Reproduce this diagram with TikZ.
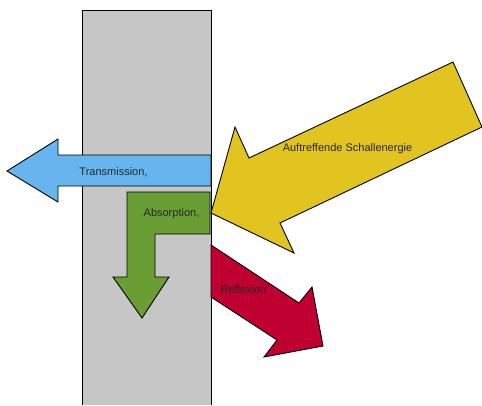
\documentclass[tikz,border=0pt]{standalone}
\usepackage{fontspec}
\setmainfont{Liberation Sans}
\definecolor{wallgray}{HTML}{C6C6C6}
\definecolor{transblue}{HTML}{66B5EE}
\definecolor{absgreen}{HTML}{6A9E35}
\definecolor{incyellow}{HTML}{E2C421}
\definecolor{reflred}{HTML}{BF0030}
\tikzset{
  wall/.style={fill=wallgray, draw=black, line width=1pt},
  flow/.style={draw=black, line width=0.9pt, line join=miter},
  lbl/.style={font=\fontsize{11}{13}\selectfont, text=black!85, inner sep=0pt},
}

\begin{document}
\begin{tikzpicture}[x=1pt, y=-1pt]
    \useasboundingbox (0,0) rectangle (482,405);
    % Wand
    \fill[wallgray] (82,10) rectangle (211,405);
    \draw[wall, fill=none] (82,405) -- (82,10) -- (211,10) -- (211,405);
    % Transmission
    \draw[flow, fill=transblue] (211,155) -- (58,155) -- (58,139) -- (7,171)
        -- (58,202) -- (58,186) -- (211,186) -- cycle;
    % Absorption
    \draw[flow, fill=absgreen] (127,192) -- (210,192) -- (210,234) -- (155,234)
        -- (155,277) -- (169,277) -- (142,318) -- (113,277) -- (127,277) -- cycle;
    % auftreffende Energie
    \draw[flow, fill=incyellow] (211,213) -- (235,127) -- (249,158) -- (453,62)
        -- (482,127) -- (280,223) -- (294,253) -- cycle;
    % Reflexion
    \draw[flow, fill=reflred] (211,245) -- (299,303) -- (312,287) -- (323,346)
        -- (264,357) -- (277,340) -- (211,297) -- cycle;
    % Beschriftung
    \node[lbl] (trans) at (113.5,172) {Transmission,};
    \node[lbl] (absorp) at (171.5,214) {Absorption,};
    \node[lbl] (auftr) at (347.5,149) {Auftreffende Schallenergie};
    \node[lbl] (refl) at (243.5,290) {Reflexion};
\end{tikzpicture}
\end{document}
